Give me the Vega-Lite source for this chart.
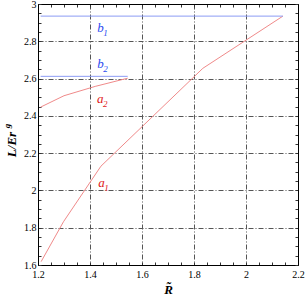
{
  "$schema": "https://vega.github.io/schema/vega-lite/v6.json",
  "width": 260,
  "height": 261,
  "autosize": "none",
  "padding": {"left": 38, "top": 4, "right": 7, "bottom": 32},
  "background": "white",
  "config": {"view": {"stroke": "black", "strokeWidth": 1}},
  "datasets": {
    "curves": [
      {"s": "a1", "x": 1.212, "y": 1.618},
      {"s": "a1", "x": 1.298, "y": 1.832},
      {"s": "a1", "x": 1.442, "y": 2.13},
      {"s": "a1", "x": 1.834, "y": 2.655},
      {"s": "a1", "x": 2.142, "y": 2.935},
      {"s": "a2", "x": 1.21, "y": 2.447},
      {"s": "a2", "x": 1.3, "y": 2.508},
      {"s": "a2", "x": 1.42, "y": 2.558},
      {"s": "a2", "x": 1.545, "y": 2.602},
      {"s": "b1", "x": 1.21, "y": 2.935},
      {"s": "b1", "x": 2.142, "y": 2.935},
      {"s": "b2", "x": 1.21, "y": 2.612},
      {"s": "b2", "x": 1.545, "y": 2.612}
    ],
    "labels": [
      {"lab": "b", "sub": "1", "x": 1.428, "y": 2.85},
      {"lab": "b", "sub": "2", "x": 1.428, "y": 2.657},
      {"lab": "a", "sub": "2", "x": 1.427, "y": 2.47},
      {"lab": "a", "sub": "1", "x": 1.432, "y": 2.018}
    ],
    "ysub": [
      {"t": "g", "x": 1.092, "y": 2.345}
    ]
  },
  "resolve": {"axis": {"x": "independent", "y": "independent"}},
  "layer": [
    {
      "data": {"name": "curves"},
      "mark": {"type": "line", "strokeWidth": 1, "clip": true},
      "encoding": {
        "x": {
          "field": "x", "type": "quantitative",
          "scale": {"domain": [1.2, 2.2], "nice": false, "zero": false},
          "axis": {
            "orient": "bottom",
            "values": [1.2,1.25,1.3,1.35,1.4,1.45,1.5,1.55,1.6,1.65,1.7,1.75,1.8,1.85,1.9,1.95,2.0,2.05,2.1,2.15,2.2],
            "labelExpr": "abs(datum.value*5 - round(datum.value*5)) < 0.001 ? format(datum.value, '~g') : ''",
            "labelFlush": false, "labelOverlap": false,
            "grid": true,
            "gridOpacity": {"condition": {"test": "abs(datum.value*5 - round(datum.value*5)) < 0.001", "value": 1}, "value": 0},
            "gridColor": "#555555", "gridDash": [5, 2, 1, 2], "gridWidth": 1,
            "ticks": true, "tickSize": -3, "tickColor": "#333333",
            "domain": true, "domainColor": "black",
            "labelFont": "Liberation Serif", "labelFontSize": 10, "labelColor": "black", "labelPadding": 7,
            "title": "R̃", "titleFont": "Liberation Serif", "titleFontStyle": "italic", "titleFontWeight": "bold",
            "titleFontSize": 13, "titleColor": "black", "titlePadding": 4
          }
        },
        "y": {
          "field": "y", "type": "quantitative",
          "scale": {"domain": [1.6, 3.0], "nice": false, "zero": false},
          "axis": {
            "orient": "left",
            "values": [1.6,1.65,1.7,1.75,1.8,1.85,1.9,1.95,2.0,2.05,2.1,2.15,2.2,2.25,2.3,2.35,2.4,2.45,2.5,2.55,2.6,2.65,2.7,2.75,2.8,2.85,2.9,2.95,3.0],
            "labelExpr": "abs(datum.value*5 - round(datum.value*5)) < 0.001 ? format(datum.value, '~g') : ''",
            "labelFlush": false, "labelOverlap": false,
            "grid": true,
            "gridOpacity": {"condition": {"test": "abs(datum.value*5 - round(datum.value*5)) < 0.001", "value": 1}, "value": 0},
            "gridColor": "#555555", "gridDash": [5, 2, 1, 2], "gridWidth": 1,
            "ticks": true, "tickSize": -3, "tickColor": "#333333",
            "domain": true, "domainColor": "black",
            "labelFont": "Liberation Serif", "labelFontSize": 10, "labelColor": "black", "labelPadding": 5,
            "title": "L/Er", "titleFont": "Liberation Serif", "titleFontStyle": "italic", "titleFontWeight": "bold",
            "titleFontSize": 13, "titleColor": "black", "titlePadding": 5, "titleY": 140
          }
        },
        "detail": {"field": "s", "type": "nominal"},
        "color": {"condition": {"test": "indexof(datum.s, 'b') == 0", "value": "#8c9cf4"}, "value": "#f08a8a"}
      }
    },
    {
      "data": {"name": "labels"},
      "mark": {"type": "text", "align": "left", "baseline": "alphabetic", "font": "Liberation Serif", "fontStyle": "italic", "fontSize": 13},
      "encoding": {
        "x": {
          "field": "x", "type": "quantitative",
          "axis": {
            "orient": "top",
            "values": [1.2,1.25,1.3,1.35,1.4,1.45,1.5,1.55,1.6,1.65,1.7,1.75,1.8,1.85,1.9,1.95,2.0,2.05,2.1,2.15,2.2],
            "labels": false, "grid": false, "title": null,
            "ticks": true, "tickSize": -3, "tickColor": "#333333", "domain": true, "domainColor": "black"
          }
        },
        "y": {
          "field": "y", "type": "quantitative",
          "axis": {
            "orient": "right",
            "values": [1.6,1.65,1.7,1.75,1.8,1.85,1.9,1.95,2.0,2.05,2.1,2.15,2.2,2.25,2.3,2.35,2.4,2.45,2.5,2.55,2.6,2.65,2.7,2.75,2.8,2.85,2.9,2.95,3.0],
            "labels": false, "grid": false, "title": null,
            "ticks": true, "tickSize": -3, "tickColor": "#333333", "domain": true, "domainColor": "black"
          }
        },
        "text": {"field": "lab"},
        "color": {"condition": {"test": "datum.lab == 'b'", "value": "#2a4cf0"}, "value": "#e01818"}
      }
    },
    {
      "data": {"name": "labels"},
      "mark": {"type": "text", "align": "left", "baseline": "alphabetic", "font": "Liberation Serif", "fontStyle": "italic", "fontSize": 9, "dx": 6, "dy": 4},
      "encoding": {
        "x": {"field": "x", "type": "quantitative", "axis": null},
        "y": {"field": "y", "type": "quantitative", "axis": null},
        "text": {"field": "sub"},
        "color": {"condition": {"test": "datum.lab == 'b'", "value": "#2a4cf0"}, "value": "#e01818"}
      }
    },
    {
      "data": {"name": "ysub"},
      "mark": {"type": "text", "align": "center", "baseline": "alphabetic", "angle": 270, "font": "Liberation Serif", "fontStyle": "italic", "fontWeight": "bold", "fontSize": 9, "color": "black", "clip": false},
      "encoding": {
        "x": {"field": "x", "type": "quantitative", "axis": null},
        "y": {"field": "y", "type": "quantitative", "axis": null},
        "text": {"field": "t"}
      }
    }
  ]
}
